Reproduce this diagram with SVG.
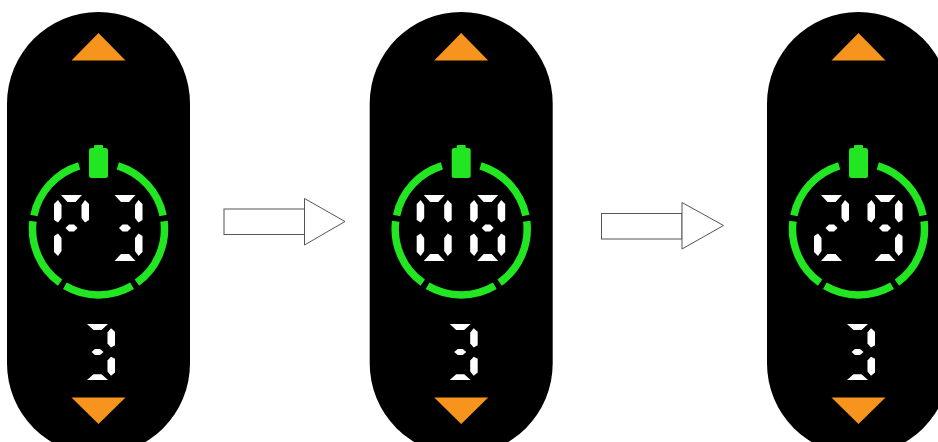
<svg xmlns="http://www.w3.org/2000/svg" width="938" height="442" viewBox="0 0 938 442">
<style>
.pill{fill:#000}
.tri{fill:#F7941E}
.ring{fill:none;stroke:#22E622;stroke-width:7.5;stroke-linecap:butt}
.bat{fill:#22E622}
.seg{fill:#fff}
.arrow{fill:#fff;stroke:#555;stroke-width:1}
</style>
<defs>
<polygon id="sa" class="seg" points="7,0 28,0 21.5,7 13.5,7"/>
<polygon id="sd" class="seg" points="13.5,59 21.5,59 28,66 7,66"/>
<polygon id="sf" class="seg" points="0,9 4,5 7.5,10 7.5,23 4,27.5 0,25"/>
<polygon id="se" class="seg" points="0,57 4,61 7.5,56 7.5,43 4,38.5 0,41"/>
<polygon id="sb" class="seg" points="35,9 31,5 27.5,10 27.5,23 31,27.5 35,25"/>
<polygon id="sc" class="seg" points="35,57 31,61 27.5,56 27.5,43 31,38.5 35,41"/>
<polygon id="sg" class="seg" points="11.5,33 15,29.5 20,29.5 23.5,33 20,36.5 15,36.5"/>
<g id="ring">
<path class="ring" d="M19.30,-63.12 A66,66 0 0 1 64.61,-13.50"/>
<path class="ring" d="M65.54,-7.81 A66,66 0 0 1 38.42,53.67"/>
<path class="ring" d="M33.60,56.81 A66,66 0 0 1 -33.60,56.81"/>
<path class="ring" d="M-38.42,53.67 A66,66 0 0 1 -65.54,-7.81"/>
<path class="ring" d="M-64.61,-13.50 A66,66 0 0 1 -19.30,-63.12"/>
<rect class="bat" x="-9.5" y="-81" width="19" height="30" rx="2.5"/>
<rect class="bat" x="-4.5" y="-84" width="9" height="5" rx="1"/>
</g>
<g id="base">
<rect class="pill" x="-91.5" y="12" width="183" height="443" rx="91.5"/>
<polygon class="tri" points="0,33 27,60.5 -27,60.5"/>
<polygon class="tri" points="-27,397.5 27,397.5 0,424"/>
<use href="#ring" x="0" y="229"/>
<g transform="translate(-18.5,324) scale(1,0.85)">
<use href="#sa"/><use href="#sb"/><use href="#sg"/><use href="#sc"/><use href="#sd"/>
</g>
</g>
</defs>

<g id="panel1">
<use href="#base" x="98.5" y="0"/>
<g transform="translate(54,195)">
<use href="#sa"/><use href="#sb"/><use href="#sf"/><use href="#sg"/><use href="#se"/>
</g>
<g transform="translate(107.5,195)">
<use href="#sa"/><use href="#sb"/><use href="#sg"/><use href="#sc"/><use href="#sd"/>
</g>
</g>

<g id="panel2">
<use href="#base" x="461.2" y="0"/>
<g transform="translate(416.7,195)">
<use href="#sa"/><use href="#sb"/><use href="#sc"/><use href="#sd"/><use href="#se"/><use href="#sf"/>
</g>
<g transform="translate(470.2,195)">
<use href="#sa"/><use href="#sb"/><use href="#sc"/><use href="#sd"/><use href="#se"/><use href="#sf"/><use href="#sg"/>
</g>
</g>

<g id="panel3">
<use href="#base" x="858.5" y="0"/>
<g transform="translate(814,195)">
<use href="#sa"/><use href="#sb"/><use href="#sg"/><use href="#se"/><use href="#sd"/>
</g>
<g transform="translate(867.5,195)">
<use href="#sa"/><use href="#sb"/><use href="#sc"/><use href="#sd"/><use href="#sf"/><use href="#sg"/>
</g>
</g>

<g id="connectors">
<rect class="arrow" x="224" y="209" width="80.5" height="25.5"/>
<polygon class="arrow" points="304.5,198.5 345,221.5 304.5,245"/>
<rect class="arrow" x="601.5" y="213.5" width="80.5" height="25.5"/>
<polygon class="arrow" points="682,202.5 723.5,225.5 682,249"/>
</g>
</svg>
